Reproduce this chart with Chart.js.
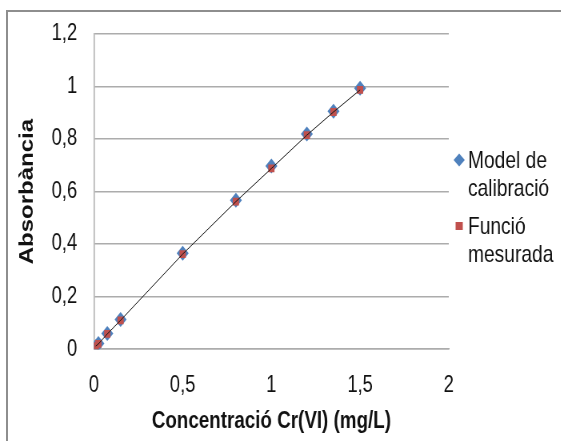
<!DOCTYPE html>
<html lang="ca">
<head>
<meta charset="utf-8">
<title>Absorbància - Cr(VI)</title>
<script src="https://cdn.jsdelivr.net/npm/chart.js@4.4.1/dist/chart.umd.min.js"></script>
<style>
  html, body { margin: 0; padding: 0; background: #fff; }
  body { width: 561px; height: 441px; overflow: hidden; position: relative; }
  /* marc gris del gràfic (només es veuen els costats esquerre i superior) */
  #marc {
    position: absolute; left: 6px; top: 10px;
    width: 620px; height: 520px;
    border: 2px solid #8e8e8e;
  }
  /* el llenç es dibuixa més ample i s'estreny en horitzontal */
  #contenidor {
    position: absolute; left: 0; top: 0;
    width: 701px; height: 441px;
    transform: scaleX(0.8); transform-origin: 0 0;
  }
</style>
</head>
<body>
<div id="marc"></div>
<div id="contenidor">
  <canvas id="graficCalibracio" width="701" height="441"></canvas>
</div>
<script>
// --- Dades ---
// Concentració de Cr(VI) dels patrons (mg/L)
const concentracio = [0.01, 0.025, 0.075, 0.15, 0.5, 0.8, 1.0, 1.2, 1.35, 1.5];
// Absorbància segons el model de calibració
const absModel = [0.009, 0.022, 0.06, 0.113, 0.365, 0.567, 0.697, 0.819, 0.906, 0.993];
// Absorbància mesurada
const absMesurada = [0.012, 0.02, 0.058, 0.11, 0.362, 0.562, 0.688, 0.815, 0.903, 0.987];

// Etiquetes de la llegenda (en dues línies cadascuna)
const llegendaModel = ['Model de', 'calibració'];
const llegendaMesurada = ['Funció', 'mesurada'];

// Marques dels eixos
const marquesY = [0, 0.2, 0.4, 0.6, 0.8, 1, 1.2];
const marquesX = [0, 0.5, 1, 1.5, 2];

const FONT = "'Liberation Sans', Arial, sans-serif";
const BLAU = '#4f81bd';
const VERMELL = '#c0504d';
const GRIS = '#acacac';

// Passa els nombres a format català (coma decimal)
const ambComa = v => String(Math.round(v * 10) / 10).replace('.', ',');

const punts = (xs, ys) => xs.map((x, i) => ({ x: x, y: ys[i] }));

// Llegenda pròpia: Chart.js no parteix el text en diverses línies
const pluginLlegenda = {
  id: 'llegendaDuesLinies',
  afterDraw(chart) {
    const ctx = chart.ctx;
    const items = [
      { linies: llegendaModel, color: BLAU, forma: 'rombe', y: 160 },
      { linies: llegendaMesurada, color: VERMELL, forma: 'quadrat', y: 226 }
    ];
    ctx.save();
    ctx.font = '24px ' + FONT;
    ctx.textBaseline = 'middle';
    items.forEach(item => {
      const xm = 574;
      ctx.fillStyle = item.color;
      ctx.beginPath();
      if (item.forma === 'rombe') {
        ctx.moveTo(xm, item.y - 6.5);
        ctx.lineTo(xm + 7, item.y);
        ctx.lineTo(xm, item.y + 6.5);
        ctx.lineTo(xm - 7, item.y);
      } else {
        ctx.rect(xm - 4.5, item.y - 4, 9, 8);
      }
      ctx.closePath();
      ctx.fill();
      ctx.fillStyle = '#111';
      item.linies.forEach((text, i) => {
        ctx.fillText(text, 585, item.y + 1 + i * 28);
      });
    });
    ctx.restore();
  }
};

const graficCalibracio = new Chart(document.getElementById('graficCalibracio'), {
  type: 'scatter',
  data: {
    datasets: [
      {
        // recta que uneix els punts mesurats, per sobre de tot
        label: 'tendència',
        data: punts(concentracio, absMesurada),
        showLine: true,
        borderColor: '#1a1a1a',
        borderWidth: 1,
        pointRadius: 0,
        order: 0
      },
      {
        label: 'Funció mesurada',
        data: punts(concentracio, absMesurada),
        pointStyle: 'rect',
        pointRadius: 5.5,
        backgroundColor: VERMELL,
        borderColor: VERMELL,
        borderWidth: 0,
        order: 1
      },
      {
        label: 'Model de calibració',
        data: punts(concentracio, absModel),
        pointStyle: 'rectRot',
        pointRadius: 7.5,
        backgroundColor: BLAU,
        borderColor: BLAU,
        borderWidth: 0,
        order: 2
      }
    ]
  },
  options: {
    responsive: false,
    animation: false,
    devicePixelRatio: 1,
    layout: { padding: { left: 16, right: 140, top: 34, bottom: 3 } },
    plugins: {
      legend: { display: false },
      tooltip: { enabled: false }
    },
    scales: {
      x: {
        type: 'linear',
        min: 0,
        max: 2,
        afterBuildTicks: scale => { scale.ticks = marquesX.map(v => ({ value: v })); },
        // les marques existeixen només per separar les etiquetes de l'eix
        grid: { display: true, drawOnChartArea: false, drawTicks: true, tickLength: 20, tickColor: 'rgba(0,0,0,0)', color: 'rgba(0,0,0,0)' },
        border: { display: true, color: GRIS, width: 1.5 },
        ticks: {
          padding: 3,
          color: '#111',
          font: { family: FONT, size: 23 },
          callback: v => ambComa(v)
        },
        title: {
          display: true,
          text: 'Concentració Cr(VI) (mg/L)',
          color: '#111',
          font: { family: FONT, size: 23.5, weight: 'bold' },
          padding: { top: 5, bottom: 2 }
        }
      },
      y: {
        min: 0,
        max: 1.2,
        afterBuildTicks: scale => { scale.ticks = marquesY.map(v => ({ value: v })); },
        grid: { color: GRIS, lineWidth: 1.5, drawTicks: true, tickLength: 18, tickColor: 'rgba(0,0,0,0)' },
        border: { display: true, color: GRIS, width: 1.5 },
        ticks: {
          padding: 3,
          color: '#111',
          font: { family: FONT, size: 23 },
          callback: v => ambComa(v)
        },
        title: {
          display: true,
          text: 'Absorbància',
          color: '#111',
          font: { family: FONT, size: 24, weight: 'bold' },
          padding: { top: 4, bottom: 12.7 }
        }
      }
    }
  },
  plugins: [pluginLlegenda]
});
</script>
</body>
</html>
